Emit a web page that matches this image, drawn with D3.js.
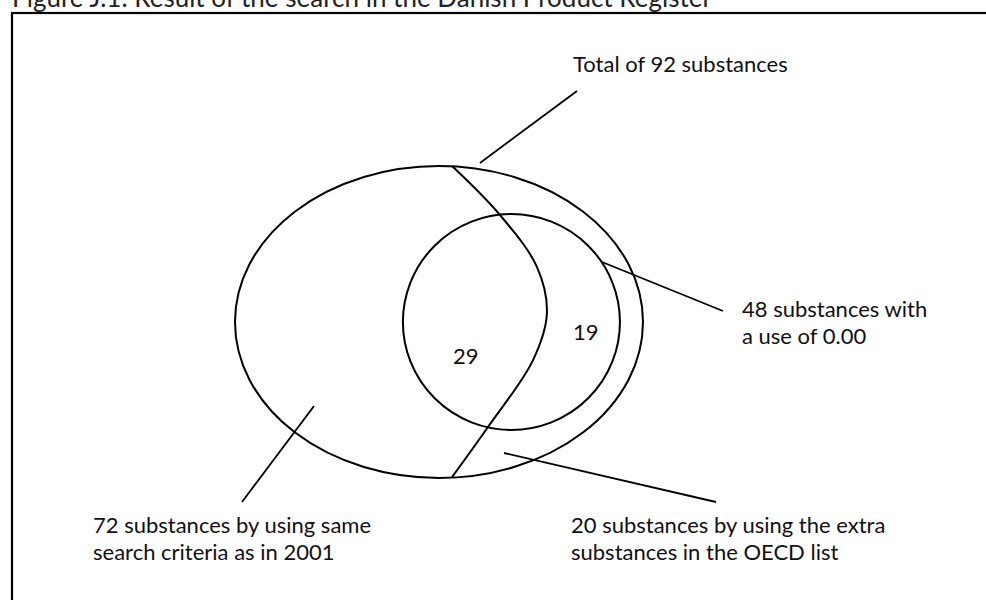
<!DOCTYPE html>
<html>
<head>
<meta charset="utf-8">
<script src="https://cdn.jsdelivr.net/npm/d3@7"></script>
<style>
  html, body { margin: 0; padding: 0; background: #fff; }
  svg { display: block; }
  text { font-family: Lato, "Open Sans", sans-serif; font-size: 22px; fill: #111; }
</style>
</head>
<body>
<svg></svg>
<script>
const title = "Figure J.1. Result of the search in the Danish Product Register";

// region counts inside the inner circle (left / right of the split line)
const regionCounts = [29, 19];

// callout texts, one entry per leader line
const calloutLines = [
  ["Total of 92 substances"],
  ["48 substances with", "a use of 0.00"],
  ["72 substances by using same", "search criteria as in 2001"],
  ["20 substances by using the extra", "substances in the OECD list"]
];

const width = 986;
const height = 600;

const svg = d3.select("svg").attr("width", width).attr("height", height);

// unit space of the outer ellipse: (-1..1, -1..1)
const x = d3.scaleLinear().domain([-1, 1]).range([235, 643]);
const y = d3.scaleLinear().domain([-1, 1]).range([166, 478]);

// layout of the diagram (in ellipse units)
const sets = [
  { cx: 0, cy: 0, rx: 1, ry: 1 },
  { cx: 0.355, cy: 0, rx: 0.532, ry: 0.692 }
];
const splitLine = [
  [0.064, -1], [0.299, -0.686], [0.48, -0.353], [0.529, -0.058],
  [0.461, 0.244], [0.24, 0.673], [0.064, 0.994]
];
const countPos = [[0.069, 0.269], [0.657, 0.115]];

// callouts in page pixels
const leaders = [
  [[577, 91], [480, 163]],
  [[602, 262], [723, 311]],
  [[314, 406], [242, 502]],
  [[504, 453], [716, 502]]
];
const calloutPos = [[573, 72], [742, 317], [93, 533], [571, 533]];
const lineGap = 26.5;

function drawFrame() {
  svg.append("rect")
    .attr("x", 12)
    .attr("y", 13)
    .attr("width", 1000)
    .attr("height", 700)
    .attr("fill", "none")
    .attr("stroke", "#000")
    .attr("stroke-width", 2.2);

  svg.append("text")
    .attr("x", 12)
    .attr("y", 7)
    .style("font-size", "26px")
    .style("fill", "#222")
    .text(title);
}

function drawSets() {
  svg.selectAll("ellipse.set")
    .data(sets)
    .enter()
    .append("ellipse")
    .attr("class", "set")
    .attr("cx", (d) => x(d.cx))
    .attr("cy", (d) => y(d.cy))
    .attr("rx", (d) => x(d.rx) - x(0))
    .attr("ry", (d) => y(d.ry) - y(0))
    .attr("fill", "none")
    .attr("stroke", "#000")
    .attr("stroke-width", 2);

  const line = d3.line()
    .x((d) => x(d[0]))
    .y((d) => y(d[1]))
    .curve(d3.curveCatmullRom.alpha(0.5));

  svg.append("path")
    .attr("d", line(splitLine))
    .attr("fill", "none")
    .attr("stroke", "#000")
    .attr("stroke-width", 2);

  svg.selectAll("text.count")
    .data(regionCounts)
    .enter()
    .append("text")
    .attr("class", "count")
    .attr("x", (d, i) => x(countPos[i][0]))
    .attr("y", (d, i) => y(countPos[i][1]))
    .text((d) => d);
}

function drawCallouts() {
  svg.selectAll("line.leader")
    .data(leaders)
    .enter()
    .append("line")
    .attr("class", "leader")
    .attr("x1", (d) => d[0][0])
    .attr("y1", (d) => d[0][1])
    .attr("x2", (d) => d[1][0])
    .attr("y2", (d) => d[1][1])
    .attr("stroke", "#000")
    .attr("stroke-width", 1.8);

  const labels = svg.selectAll("text.callout")
    .data(calloutLines)
    .enter()
    .append("text")
    .attr("class", "callout")
    .attr("x", (d, i) => calloutPos[i][0])
    .attr("y", (d, i) => calloutPos[i][1]);

  labels.selectAll("tspan")
    .data((d) => d)
    .enter()
    .append("tspan")
    .attr("x", function () { return this.parentNode.getAttribute("x"); })
    .attr("dy", (d, i) => (i === 0 ? 0 : lineGap))
    .text((d) => d);
}

drawFrame();
drawSets();
drawCallouts();
</script>
</body>
</html>
